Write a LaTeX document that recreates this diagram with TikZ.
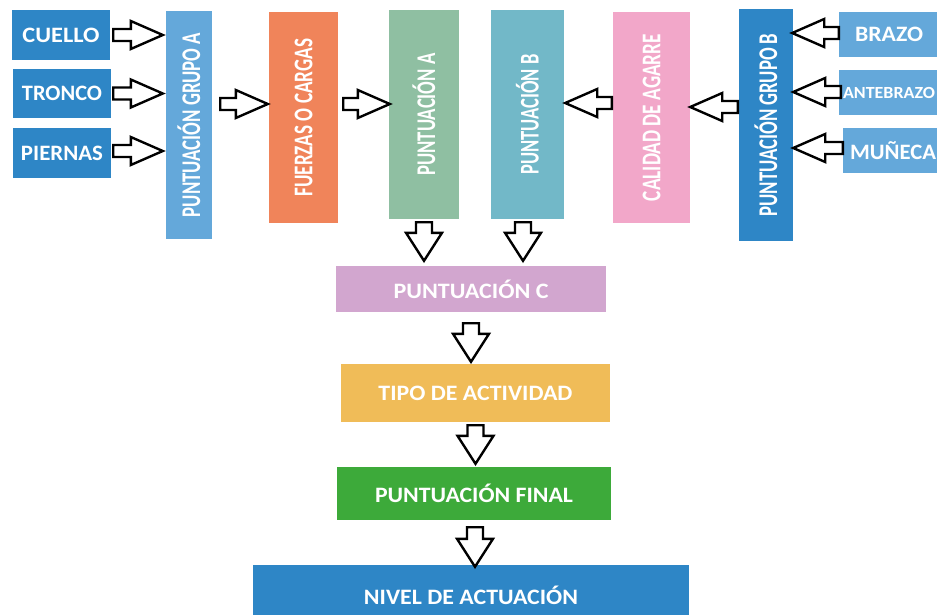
\documentclass[tikz,border=0pt]{standalone}
\usepackage{fontspec}
\setmainfont{Carlito}
\usepackage{graphicx}
\usetikzlibrary{calc}
\definecolor{dblue}{HTML}{2E86C6}
\definecolor{lblue}{HTML}{64A8DA}
\definecolor{corange}{HTML}{F0845A}
\definecolor{cgreenA}{HTML}{8FBFA2}
\definecolor{ctealB}{HTML}{72B8C8}
\definecolor{cpink}{HTML}{F2A7C9}
\definecolor{cviolet}{HTML}{D2A6CF}
\definecolor{cyellow}{HTML}{F0BC58}
\definecolor{cgreen}{HTML}{3DAA3A}
\newcommand\hlab[2]{\resizebox{#1pt}{\height}{#2}}
\newcommand\vlab[2]{\rotatebox{90}{\resizebox{#1pt}{\height}{#2}}}
\newcommand\barrow[5]{% start, end, shaft half, head half, head length
  \coordinate (bS) at #1; \coordinate (bE) at #2;
  \coordinate (bH) at ($(bE)!#5pt!(bS)$);
  \draw[barr] ($(bS)!#3pt!90:(bE)$) -- ($(bH)!#3pt!90:(bE)$) -- ($(bH)!#4pt!90:(bE)$) -- (bE)
    -- ($(bH)!#4pt!-90:(bE)$) -- ($(bH)!#3pt!-90:(bE)$) -- ($(bS)!#3pt!-90:(bE)$) -- cycle;}
\newcommand\harrow[2]{\barrow{#1}{#2}{6}{14}{32}}
\newcommand\varrow[2]{\barrow{#1}{#2}{8}{18}{28}}
\tikzset{
  box/.style={inner sep=0pt, draw=none, text=white, font=\bfseries\fontsize{22}{24}\selectfont},
  vbox/.style={box, font=\bfseries\fontsize{27}{29}\selectfont},
  barr/.style={draw=black, fill=white, line width=2.4pt, line join=miter},
}
\begin{document}
\begin{tikzpicture}[x=1pt,y=-1pt]
\useasboundingbox (0,0) rectangle (937,614);
% left group
\node[box, fill=dblue, minimum width=98, minimum height=50] (cuello) at (61,35) {\hlab{77}{CUELLO}};
\node[box, fill=dblue, minimum width=98, minimum height=49] (tronco) at (62,93.5) {\hlab{80}{TRONCO}};
\node[box, fill=dblue, minimum width=98, minimum height=50] (piernas) at (62,153) {\hlab{82}{PIERNAS}};
\node[vbox, fill=lblue, minimum width=46, minimum height=228] (grpA) at (189,125) {\vlab{184}{PUNTUACIÓN GRUPO A}};
% vertical boxes
\node[vbox, fill=corange, minimum width=69, minimum height=211] (fuerzas) at (303.5,117.5) {\vlab{158}{FUERZAS O CARGAS}};
\node[vbox, fill=cgreenA, minimum width=70, minimum height=209] (puntA) at (424,114.5) {\vlab{122}{PUNTUACIÓN A}};
\node[vbox, fill=ctealB, minimum width=73, minimum height=209] (puntB) at (527.5,114.5) {\vlab{120}{PUNTUACIÓN B}};
\node[vbox, fill=cpink, minimum width=77, minimum height=211] (calidad) at (651.5,117.5) {\vlab{167}{CALIDAD DE AGARRE}};
\node[vbox, fill=dblue, minimum width=54, minimum height=232] (grpB) at (766,125) {\vlab{183}{PUNTUACIÓN GRUPO B}};
% right group
\node[box, fill=lblue, minimum width=100, minimum height=45] (brazo) at (889,34.5) {\hlab{68}{BRAZO}};
\node[box, fill=lblue, minimum width=100, minimum height=45, font=\bfseries\fontsize{17}{19}\selectfont] (antebrazo) at (889,92.5) {\hlab{92}{ANTEBRAZO}};
\node[box, fill=lblue, minimum width=100, minimum height=45] (muneca) at (893,150.5) {\hlab{86}{MUÑECA}};
% bottom chain
\node[box, fill=cviolet, minimum width=270, minimum height=46] (puntC) at (471,289) {\hlab{155}{PUNTUACIÓN C}};
\node[box, fill=cyellow, minimum width=269, minimum height=58] (tipo) at (475.5,393) {\hlab{194}{TIPO DE ACTIVIDAD}};
\node[box, fill=cgreen, minimum width=274, minimum height=53] (final) at (474,493.5) {\hlab{198}{PUNTUACIÓN FINAL}};
\node[box, fill=dblue, minimum width=436, minimum height=60] (nivel) at (471,595) {\hlab{214}{NIVEL DE ACTUACIÓN}};
% arrows left
\harrow{($(cuello.east)+(3,0)$)}{($(grpA.west |- cuello.east)+(-3,0)$)}
\harrow{($(tronco.east)+(2,0)$)}{($(grpA.west |- tronco.east)+(-3,0)$)}
\harrow{($(piernas.east)+(2,-2)$)}{($(grpA.west |- piernas.east)+(-3,-2)$)}
\harrow{($(grpA.east)+(8,-21)$)}{($(fuerzas.west |- grpA.east)+(-1,-21)$)}
\harrow{($(fuerzas.east)+(5,-13.5)$)}{($(puntA.west |- fuerzas.east)+(1,-13.5)$)}
% arrows right
\harrow{($(calidad.west)+(-1,-14.5)$)}{($(puntB.east |- calidad.west)+(1,-14.5)$)}
\harrow{($(grpB.west)+(-1,-18)$)}{($(calidad.east |- grpB.west)+(0,-18)$)}
\harrow{($(brazo.west)+(0,-1.5)$)}{($(grpB.east |- brazo.west)+(-1,-1.5)$)}
\harrow{($(antebrazo.west)+(2,-0.5)$)}{($(grpB.east |- antebrazo.west)+(0,-0.5)$)}
\harrow{($(muneca.west)+(0,-2.5)$)}{($(grpB.east |- muneca.west)+(0,-2.5)$)}
% arrows down
\varrow{($(puntA.south)+(0,3)$)}{($(puntC.north -| puntA.south)+(0,-5)$)}
\varrow{($(puntB.south)+(-4.5,3)$)}{($(puntC.north -| puntB.south)+(-4.5,-5)$)}
\varrow{($(puntC.south)+(0,11)$)}{($(tipo.north -| puntC.south)+(0,-2)$)}
\varrow{($(tipo.south)+(0,3)$)}{($(final.north -| tipo.south)+(0,-3)$)}
\varrow{($(final.south)+(1,7)$)}{($(nivel.north -| final.south)+(1,2)$)}
\end{tikzpicture}
\end{document}
